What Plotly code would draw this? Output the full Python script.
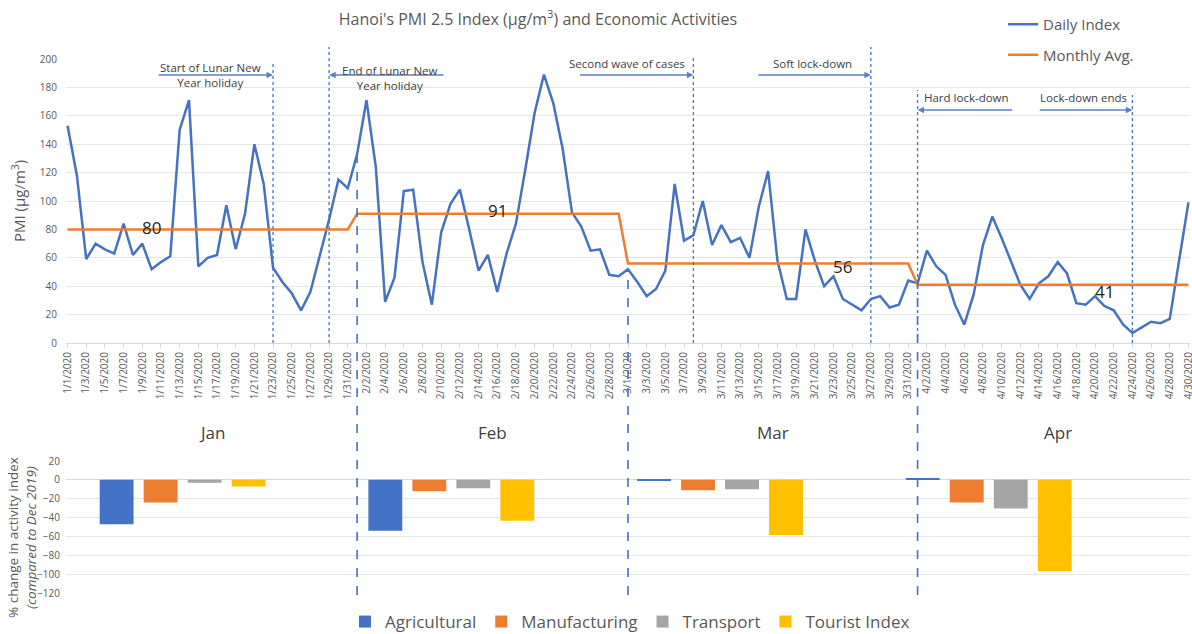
import plotly.graph_objects as go
import pandas as pd

# ---------------- data ----------------
pm_jan = [153, 118, 59, 70, 66, 63, 84, 62, 70, 52, 57, 61, 150, 171, 54, 60, 62, 97, 66, 91,
          140, 112, 53, 43, 35, 23, 36, 61, 87, 115, 109]
pm_feb = [133, 171, 124, 29, 46, 107, 108, 57, 27, 78, 98, 108, 80, 51, 62, 36, 63, 84, 122, 162,
          189, 169, 137, 92, 82, 65, 66, 48, 47]
pm_mar = [52, 43, 33, 38, 51, 112, 72, 76, 100, 69, 83, 71, 74, 60, 96, 121, 58, 31, 31, 80,
          58, 40, 47, 31, 27, 23, 31, 33, 25, 27, 44]
pm_apr = [42, 65, 54, 48, 27, 13, 34, 69, 89, 74, 57, 41, 31, 42, 47, 57, 49, 28, 27, 33,
          26, 23, 13, 7, 11, 15, 14, 17, 58, 99]

months = ["Jan", "Feb", "Mar", "Apr"]
monthly_avg = [80, 91, 56, 41]

agricultural = [-47, -54, -0.7, 1.8]
manufacturing = [-24, -12, -11, -24]
transport = [-3, -9, -10, -30.5]
tourist_index = [-7, -43.5, -58.5, -97]

events = [  # (label, head date, tail date, text date, row)
    ("Start of Lunar New<br>Year holiday", "2020-01-23", "2020-01-10 14:00", "2020-01-16 08:00", "a"),
    ("End of Lunar New<br>Year holiday", "2020-01-29", "2020-02-10 10:00", "2020-02-04 12:00", "b"),
    ("Second wave of cases", "2020-03-08", "2020-02-24 17:00", "2020-02-29 22:00", "c"),
    ("Soft lock-down", "2020-03-27", "2020-03-14 19:00", "2020-03-20 17:00", "c"),
    ("Hard lock-down", "2020-04-01", "2020-04-11 07:00", "2020-04-06 05:00", "d"),
    ("Lock-down ends", "2020-04-24", "2020-04-13 22:00", "2020-04-18 19:00", "d"),
]
avg_label_dates = ["2020-01-10", "2020-02-16", "2020-03-24", "2020-04-21"]
avg_label_shift = [2, 3, -3, -7]

# ---------------- derived ----------------
daily = pm_jan + pm_feb + pm_mar + pm_apr
dates = pd.date_range("2020-01-01", periods=len(daily), freq="D")
lengths = [len(pm_jan), len(pm_feb), len(pm_mar), len(pm_apr)]
avg_series = []
for a, n in zip(monthly_avg, lengths):
    avg_series += [a] * n

H = 634
W = 1192
ML, MR = 66, 2
PW = W - ML - MR
def pp(px):
    return 1 - px / H
def px_x(px):
    return (px - ML) / PW

top_dom = [pp(343), pp(59)]
bot_dom = [pp(593), pp(461)]
YMAX = 200
def ytop_paper(v):
    return top_dom[0] + v / YMAX * (top_dom[1] - top_dom[0])

BLUE = "#4472C4"
ORANGE = "#ED7D31"
GRAY = "#A5A5A5"
YELLOW = "#FFC000"
TXT = "#595959"
FONT = "Open Sans"

fig = go.Figure()
fig.add_trace(go.Scatter(x=dates, y=daily, mode="lines", name="Daily Index",
                         line=dict(color=BLUE, width=2.5), xaxis="x", yaxis="y",
                         legend="legend", legendgroup="a"))
fig.add_trace(go.Scatter(x=dates, y=avg_series, mode="lines", name="Monthly Avg.",
                         line=dict(color=ORANGE, width=2.5), xaxis="x", yaxis="y",
                         legend="legend", legendgroup="b"))

for name, vals, col in [("Agricultural", agricultural, BLUE), ("Manufacturing", manufacturing, ORANGE),
                        ("Transport", transport, GRAY), ("Tourist Index", tourist_index, YELLOW)]:
    fig.add_trace(go.Bar(x=months, y=vals, name=name, marker_color=col, marker_line_width=0,
                         xaxis="x2", yaxis="y2", legend="legend2"))

shapes = []
# dotted event lines
dotted = [("2020-01-23", 62), ("2020-01-29", 47), ("2020-03-08", 55), ("2020-03-27", 47),
          ("2020-04-01", 90), ("2020-04-24", 95)]
for d, toppx in dotted:
    shapes.append(dict(type="line", xref="x", yref="paper", x0=d, x1=d, y0=top_dom[0], y1=pp(toppx),
                       line=dict(color=BLUE, width=1.3, dash="dot")))
# dashed month boundaries
for d in ["2020-02-01", "2020-03-01", "2020-04-01"]:
    v = daily[list(dates).index(pd.Timestamp(d))]
    shapes.append(dict(type="line", xref="x", yref="paper", x0=d, x1=d, y0=pp(595), y1=ytop_paper(v),
                       line=dict(color=BLUE, width=1.6, dash="dash")))

annotations = []
row_arrow = {"a": (343 - 75) / 1.42, "b": (343 - 75) / 1.42, "c": (343 - 75) / 1.42, "d": (343 - 110) / 1.42}
row_text = {"a": (343 - 75) / 1.42, "b": (343 - 78) / 1.42, "c": (343 - 64) / 1.42, "d": (343 - 98) / 1.42}
for label, head, tail, tdate, row in events:
    annotations.append(dict(x=head, y=row_arrow[row], ax=tail, ay=row_arrow[row], xref="x", yref="y",
                            axref="x", ayref="y", showarrow=True, arrowhead=2, arrowsize=1,
                            arrowwidth=1.3, arrowcolor="#5B80C8", text=""))
    annotations.append(dict(x=tdate, y=row_text[row], xref="x", yref="y", text=label, showarrow=False,
                            font=dict(family=FONT, size=11.5, color="#404040"), yanchor="middle"))

for d, a, s in zip(avg_label_dates, monthly_avg, avg_label_shift):
    annotations.append(dict(x=d, y=a, xref="x", yref="y", text=str(a), showarrow=False, yshift=s,
                            font=dict(family=FONT, size=17, color="#262626")))

# month labels at middle of each month
starts = pd.to_datetime(["2020-01-01", "2020-02-01", "2020-03-01", "2020-04-01", "2020-05-01"])
for i, m in enumerate(months):
    mid = starts[i] + (starts[i + 1] - starts[i]) / 2
    annotations.append(dict(x=mid, y=pp(432), xref="x", yref="paper", text=m, showarrow=False,
                            font=dict(family=FONT, size=17, color="#404040"), yanchor="middle"))

# axis titles
annotations.append(dict(x=px_x(18), y=pp(201), xref="paper", yref="paper", text="PMI (µg/m<sup>3</sup>)",
                        textangle=-90, showarrow=False, font=dict(family=FONT, size=15, color=TXT),
                        xanchor="center", yanchor="middle"))
annotations.append(dict(x=px_x(22), y=pp(538), xref="paper", yref="paper",
                        text="% change in activity index<br><i>(compared to Dec 2019)</i>",
                        textangle=-90, showarrow=False, font=dict(family=FONT, size=13.5, color=TXT),
                        xanchor="center", yanchor="middle"))

fig.update_layout(
    width=W, height=H,
    margin=dict(l=ML, r=MR, t=0, b=0, autoexpand=False),
    paper_bgcolor="white", plot_bgcolor="white",
    font=dict(family=FONT, color=TXT),
    title=dict(text="Hanoi's PMI 2.5 Index (µg/m<sup>3</sup>) and Economic Activities",
               x=538 / W, xref="container", xanchor="center", y=pp(19), yref="container",
               yanchor="middle", font=dict(family=FONT, size=16, color=TXT)),
    xaxis=dict(domain=[0, 1], anchor="y", type="date",
               range=["2019-12-31 20:00", "2020-04-30 04:00"],
               tick0="2020-01-01", dtick=2 * 86400000, tickformat="%-m/%-d/%Y", tickangle=-90,
               tickfont=dict(size=10, color=TXT), showgrid=False, showline=True, linecolor="#D9D9D9",
               ticks="outside", ticklen=4, tickcolor="#D9D9D9", zeroline=False, automargin=False,
               ticklabeloverflow="allow"),
    yaxis=dict(domain=top_dom, anchor="x", range=[0, YMAX], dtick=20, gridcolor="#E6E6E6",
               tickfont=dict(size=10, color=TXT), zeroline=False, showline=False,
               ticklabelstandoff=8, automargin=False),
    xaxis2=dict(domain=[0, 1], anchor="y2", type="category", range=[-0.434, 3.749],
                showticklabels=False, showgrid=False, zeroline=False, showline=False, automargin=False),
    yaxis2=dict(domain=bot_dom, anchor="x2", range=[-120, 20], dtick=20, gridcolor="#E6E6E6",
                tickfont=dict(size=10, color=TXT), zeroline=True, zerolinecolor="#D9D9D9",
                zerolinewidth=1, showline=False, ticklabelstandoff=5, automargin=False),
    bargap=0.345, bargroupgap=0.23,
    legend=dict(x=px_x(1003), y=pp(8), xanchor="left", yanchor="top", traceorder="grouped",
                tracegroupgap=8, font=dict(family=FONT, size=15, color=TXT), bgcolor="rgba(0,0,0,0)"),
    legend2=dict(orientation="h", x=px_x(630), y=pp(622), xanchor="center", yanchor="middle",
                 font=dict(family=FONT, size=17, color=TXT), bgcolor="rgba(0,0,0,0)"),
    shapes=shapes, annotations=annotations,
    showlegend=True,
)

fig.write_html("out.html", config={"displayModeBar": False})
# remove the default page margin so the figure sits at the window's top-left corner
with open("out.html", "r", encoding="utf-8") as f:
    html = f.read()
html = html.replace("<head>", "<head><style>html,body{margin:0;padding:0;overflow:hidden;}</style>", 1)
with open("out.html", "w", encoding="utf-8") as f:
    f.write(html)
